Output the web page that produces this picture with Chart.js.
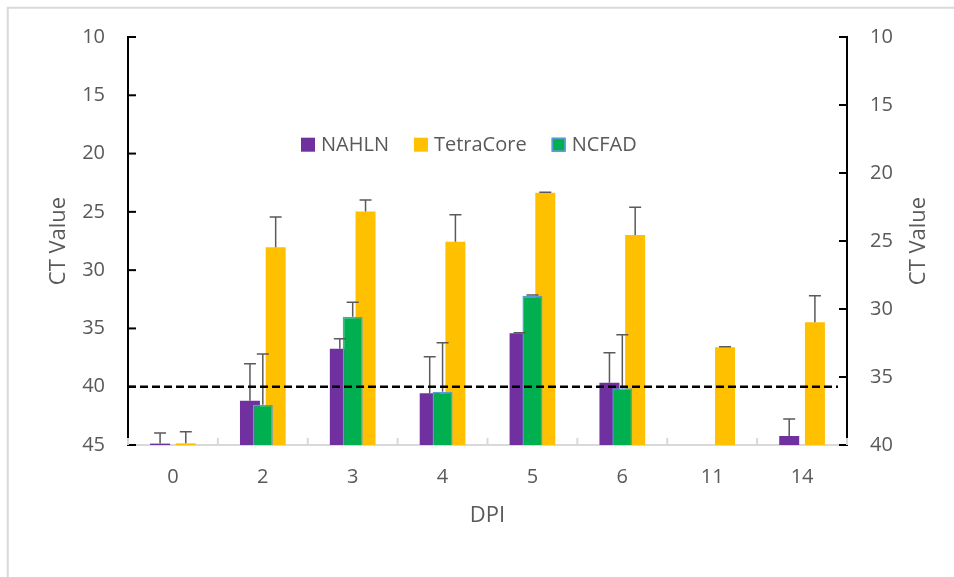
<!DOCTYPE html>
<html>
<head>
<meta charset="utf-8">
<script src="https://cdn.jsdelivr.net/npm/chart.js@4.4.1/dist/chart.umd.min.js"></script>
<style>
  html, body { margin: 0; padding: 0; background: #ffffff; }
  canvas { display: block; }
</style>
</head>
<body>
<canvas id="chart" width="954" height="577"></canvas>
<script>
// Days post infection
const dpiLabels = ['0', '2', '3', '4', '5', '6', '11', '14'];

// Mean CT values per lab and the upward error (one side only)
const nahlnCt      = [44.88, 41.2, 36.74, 40.57, 35.42, 39.65, null, 44.23];
const nahlnErr     = [0.92, 3.17, 0.86, 3.14, 0.05, 2.57, null, 1.46];
const tetraCoreCt  = [44.86, 28.04, 24.96, 27.56, 23.36, 26.99, 36.62, 34.48];
const tetraCoreErr = [1.0, 2.6, 0.97, 2.32, 0.05, 2.38, 0.05, 2.28];
const ncfadCt      = [null, 41.54, 34.0, 40.43, 32.19, 40.14, null, null];
const ncfadErr     = [null, 4.35, 1.24, 4.2, 0.05, 4.6, null, null];

// Positive / negative cutoff (CT)
const cutoffCt = 40;

// Axis tick values
const leftTicks  = [10, 15, 20, 25, 30, 35, 40, 45];
const rightTicks = [10, 15, 20, 25, 30, 35, 40];

const TEXT = '#595959';
const FONT = "'Open Sans', sans-serif";
Chart.defaults.font.family = FONT;
Chart.defaults.font.size = 20;
Chart.defaults.color = TEXT;

// Draw bars in a fixed stacking order, then error bars, then the cutoff line
const layeredDraw = {
  id: 'layeredDraw',
  beforeDatasetsDraw(chart) {
    const ctx = chart.ctx;
    const area = chart.chartArea;
    const yScale = chart.scales.y;
    const metas = chart.data.datasets
      .map((ds, i) => ({ ds, meta: chart.getDatasetMeta(i) }))
      .sort((a, b) => a.ds.drawRank - b.ds.drawRank);

    metas.forEach(m => m.meta.controller.draw());

    // error bars (toward lower CT only)
    ctx.save();
    ctx.strokeStyle = '#5a5a5a';
    ctx.lineWidth = 1.5;
    metas.forEach(({ ds, meta }) => {
      if (!ds.errors) return;
      meta.data.forEach((bar, j) => {
        const v = ds.data[j], e = ds.errors[j];
        if (v == null || e == null) return;
        const yEnd = yScale.getPixelForValue(v - e);
        ctx.beginPath();
        ctx.moveTo(bar.x, bar.y);
        ctx.lineTo(bar.x, yEnd);
        ctx.moveTo(bar.x - 6, yEnd);
        ctx.lineTo(bar.x + 6, yEnd);
        ctx.stroke();
      });
    });

    // dashed cutoff line
    const cy = yScale.getPixelForValue(cutoffCt);
    ctx.strokeStyle = '#000000';
    ctx.lineWidth = 2.6;
    ctx.setLineDash([8, 4]);
    ctx.beginPath();
    ctx.moveTo(area.left, cy);
    ctx.lineTo(area.right - 9, cy);
    ctx.stroke();
    ctx.restore();
    return false;
  }
};

// Inward tick marks, right-hand axis title, legend and outer frame
const decorations = {
  id: 'decorations',
  afterDraw(chart) {
    const ctx = chart.ctx;
    const { y, y2, x } = chart.scales;
    const area = chart.chartArea;
    ctx.save();

    // inner tick marks on both value axes
    ctx.strokeStyle = '#000000';
    ctx.lineWidth = 2;
    y.ticks.forEach(t => {
      const py = y.getPixelForValue(t.value);
      ctx.beginPath(); ctx.moveTo(area.left, py); ctx.lineTo(area.left + 8, py); ctx.stroke();
    });
    y2.ticks.forEach(t => {
      const py = y2.getPixelForValue(t.value);
      ctx.beginPath(); ctx.moveTo(area.right, py); ctx.lineTo(area.right - 8, py); ctx.stroke();
    });

    // category boundary marks on the DPI axis
    ctx.strokeStyle = '#d9d9d9';
    const n = dpiLabels.length;
    for (let i = 0; i <= n; i++) {
      const px = i === 0 ? area.left : (i === n ? area.right
        : (x.getPixelForValue(i - 1) + x.getPixelForValue(i)) / 2);
      ctx.beginPath(); ctx.moveTo(px, area.bottom); ctx.lineTo(px, area.bottom - 7); ctx.stroke();
    }

    // right-hand axis title, reading bottom to top
    ctx.fillStyle = TEXT;
    ctx.font = "22px " + FONT;
    ctx.textAlign = 'center';
    ctx.textBaseline = 'middle';
    ctx.save();
    ctx.translate(919, (area.top + area.bottom) / 2);
    ctx.rotate(-Math.PI / 2);
    ctx.fillText('CT Value', 0, 0);
    ctx.restore();

    // legend
    ctx.font = "20px " + FONT;
    ctx.textAlign = 'left';
    let lx = 301;
    const ly = 144.7;
    chart.data.datasets
      .filter(ds => ds.legendRank != null)
      .sort((a, b) => a.legendRank - b.legendRank)
      .forEach(ds => {
        ctx.fillStyle = ds.backgroundColor;
        ctx.fillRect(lx, ly - 7, 14, 14);
        if (ds.borderWidth) {
          ctx.strokeStyle = ds.borderColor;
          ctx.lineWidth = 1.5;
          ctx.strokeRect(lx + 0.75, ly - 6.25, 12.5, 12.5);
        }
        ctx.fillStyle = TEXT;
        ctx.fillText(ds.label, lx + 20, ly + 1);
        lx += 20 + ctx.measureText(ds.label).width + 25;
      });

    // outer chart frame
    ctx.strokeStyle = '#d9d9d9';
    ctx.lineWidth = 2;
    ctx.strokeRect(7.75, 7.75, 2000, 2000);
    ctx.restore();
  }
};

new Chart(document.getElementById('chart'), {
  type: 'bar',
  data: {
    labels: dpiLabels,
    datasets: [
      { label: 'NAHLN', data: nahlnCt, errors: nahlnErr, base: 45,
        backgroundColor: '#7030A0', borderWidth: 0, drawRank: 1, legendRank: 0 },
      { label: 'NCFAD', data: ncfadCt, errors: ncfadErr, base: 45,
        backgroundColor: '#00B050', borderColor: '#5B9BD5', borderWidth: 1.5, drawRank: 2, legendRank: 2 },
      { label: 'TetraCore', data: tetraCoreCt, errors: tetraCoreErr, base: 45,
        backgroundColor: '#FFC000', borderWidth: 0, drawRank: 0, legendRank: 1 }
    ]
  },
  options: {
    responsive: false,
    animation: false,
    layout: { padding: { top: 37, left: 0, right: 0, bottom: 0 } },
    categoryPercentage: 0.429,
    barPercentage: 1.556,
    plugins: { legend: { display: false }, tooltip: { enabled: false } },
    scales: {
      x: {
        type: 'category',
        offset: true,
        grid: { display: false, drawTicks: false },
        border: { display: true, color: '#d9d9d9', width: 2 },
        ticks: { padding: 20, color: TEXT, font: { size: 20 } },
        title: { display: true, text: 'DPI', color: TEXT, font: { size: 22 }, padding: { top: 0, bottom: 47.8 } },
        afterFit(s) { s.height = 132; }
      },
      y: {
        type: 'linear',
        position: 'left',
        reverse: true,
        min: leftTicks[0],
        max: leftTicks[leftTicks.length - 1],
        grid: { display: false, drawTicks: false },
        border: { display: true, color: '#000000', width: 2 },
        ticks: { stepSize: leftTicks[1] - leftTicks[0], padding: 23, color: TEXT, font: { size: 20 } },
        title: { display: true, text: 'CT Value', color: TEXT, font: { size: 22 }, padding: { top: 45.3, bottom: 0 } },
        afterFit(s) { s.width = 128; }
      },
      y2: {
        type: 'linear',
        position: 'right',
        reverse: true,
        min: rightTicks[0],
        max: rightTicks[rightTicks.length - 1],
        grid: { display: false, drawTicks: false },
        border: { display: true, color: '#000000', width: 2 },
        ticks: { stepSize: rightTicks[1] - rightTicks[0], padding: 23, color: TEXT, font: { size: 20 } },
        afterFit(s) { s.width = 107; }
      }
    }
  },
  plugins: [layeredDraw, decorations]
});
</script>
</body>
</html>
